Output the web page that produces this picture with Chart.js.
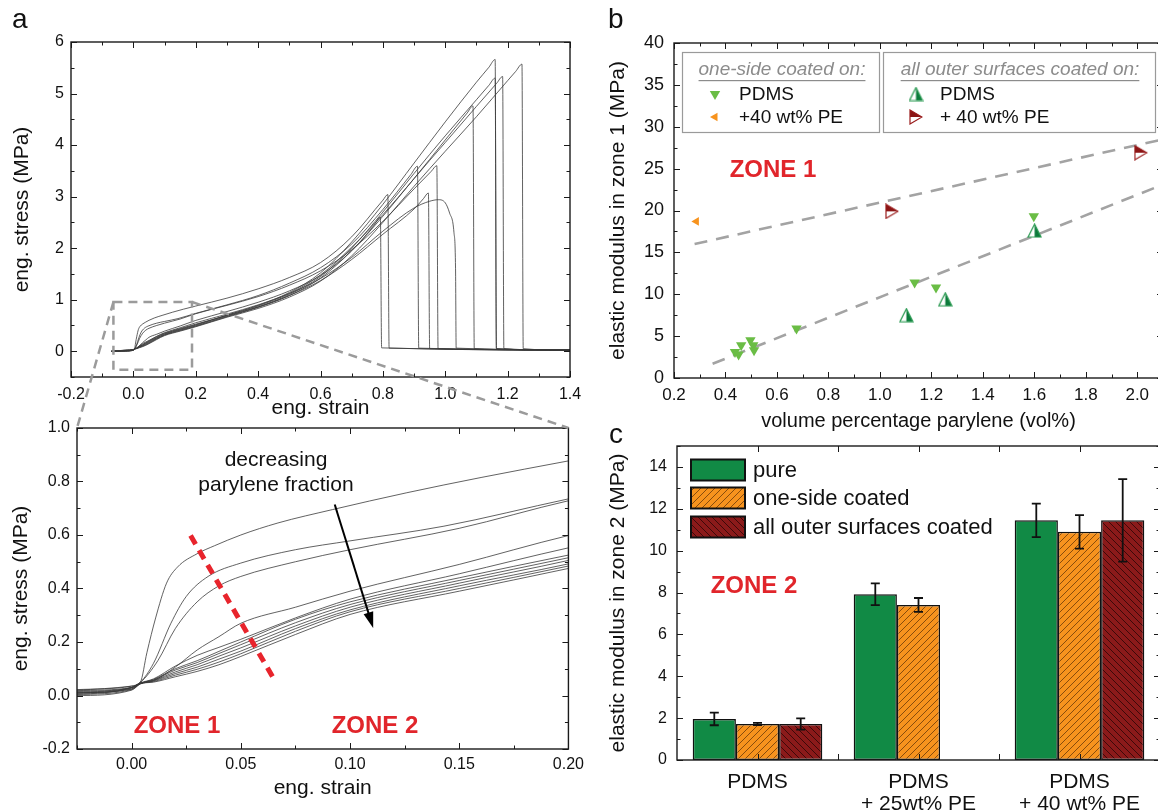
<!DOCTYPE html>
<html>
<head>
<meta charset="utf-8">
<title>Parylene coated PDMS - tensile data</title>
<script src="https://cdn.jsdelivr.net/npm/chart.js@4.4.1/dist/chart.umd.min.js"></script>
<style>
  html, body { margin: 0; padding: 0; background: #fff; }
  body { position: relative; width: 1158px; height: 812px; overflow: hidden; }
  canvas { position: absolute; }
</style>
</head>
<body>
<canvas id="stressFull" width="590" height="419" style="left:0;top:0"></canvas>
<canvas id="stressZoom" width="590" height="389" style="left:0;top:410px"></canvas>
<canvas id="modulusZone1" width="590" height="431" style="left:580px;top:0"></canvas>
<canvas id="modulusZone2" width="590" height="392" style="left:580px;top:420px"></canvas>
<canvas id="overlay" width="1158" height="812" style="left:0;top:0;pointer-events:none"></canvas>
<script>
const FONT = "'Liberation Sans', Arial, Helvetica, sans-serif";
Chart.defaults.font.family = FONT;
Chart.defaults.color = '#111';

// ---- panel a: stress-strain curves, [strain, stress (MPa)] ----
const curveA = [[-0.07,0],[-0.025,0.012],[0,0.03],[0.004,0.046],[0.01,0.056],[0.02,0.106],[0.03,0.17],[0.04,0.22],[0.05,0.27],[0.075,0.33],[0.1,0.39],[0.15,0.49],[0.2,0.598],[0.3,0.77],[0.4,0.95],[0.5,1.17],[0.6,1.47],[0.7,1.95],[0.77,2.43],[0.792,2.6],[0.796,0.065],[1.4,0.03]];
const curveB = [[-0.07,0],[-0.025,0.02],[0,0.035],[0.004,0.05],[0.007,0.16],[0.011,0.29],[0.016,0.42],[0.021,0.48],[0.03,0.53],[0.038,0.56],[0.05,0.6],[0.067,0.645],[0.092,0.695],[0.126,0.758],[0.16,0.815],[0.2,0.877],[0.3,1.03],[0.4,1.21],[0.5,1.43],[0.6,1.72],[0.7,2.22],[0.8,2.93],[0.816,3.04],[0.82,0.06],[1.4,0.03]];
const curveC = [[-0.07,0],[-0.025,0.022],[0,0.035],[0.004,0.05],[0.01,0.12],[0.018,0.27],[0.025,0.37],[0.035,0.445],[0.05,0.495],[0.075,0.545],[0.1,0.578],[0.143,0.633],[0.2,0.735],[0.3,0.9],[0.4,1.08],[0.5,1.32],[0.6,1.62],[0.7,2.08],[0.8,2.75],[0.89,3.43],[0.911,3.59],[0.915,0.06],[1.4,0.03]];
const curveD = [[-0.07,0],[-0.025,0.008],[0,0.03],[0.004,0.048],[0.012,0.13],[0.02,0.25],[0.03,0.35],[0.04,0.41],[0.05,0.445],[0.075,0.5],[0.1,0.545],[0.15,0.625],[0.2,0.728],[0.3,0.89],[0.4,1.06],[0.5,1.28],[0.6,1.56],[0.7,1.97],[0.8,2.52],[0.9,3.15],[0.955,3.49],[0.973,3.6],[0.977,0.05],[1.4,0.02]];
const curveE = [[-0.07,0],[-0.025,0.005],[0,0.03],[0.004,0.047],[0.01,0.062],[0.02,0.11],[0.03,0.15],[0.04,0.18],[0.05,0.21],[0.075,0.29],[0.1,0.36],[0.15,0.455],[0.2,0.552],[0.3,0.72],[0.4,0.9],[0.5,1.12],[0.6,1.41],[0.7,1.82],[0.8,2.33],[0.9,2.78],[0.95,2.91],[0.978,2.94],[1.0,2.88],[1.014,2.68],[1.028,2.3],[1.033,1.6],[1.035,0.06],[1.4,0.03]];
const curveF = [[-0.07,0],[-0.025,0.015],[0,0.028],[0.004,0.045],[0.01,0.06],[0.02,0.1],[0.03,0.13],[0.04,0.165],[0.05,0.2],[0.075,0.285],[0.1,0.35],[0.15,0.44],[0.2,0.525],[0.3,0.69],[0.4,0.86],[0.5,1.08],[0.6,1.37],[0.7,1.78],[0.8,2.27],[0.9,2.76],[0.93,2.96],[0.946,3.07],[0.95,0.05],[1.4,0.02]];
const curveG = [[-0.07,0],[-0.025,0.01],[0,0.025],[0.004,0.045],[0.01,0.058],[0.02,0.095],[0.03,0.123],[0.04,0.157],[0.05,0.19],[0.075,0.272],[0.1,0.34],[0.15,0.43],[0.2,0.515],[0.3,0.7],[0.4,0.88],[0.5,1.12],[0.6,1.48],[0.7,2.02],[0.8,2.65],[0.9,3.35],[1.0,4.1],[1.07,4.62],[1.089,4.76],[1.093,0.05],[1.4,0.02]];
const curveH = [[-0.07,0],[-0.025,0.004],[0,0.022],[0.004,0.044],[0.01,0.056],[0.02,0.088],[0.03,0.115],[0.04,0.147],[0.05,0.178],[0.075,0.26],[0.1,0.33],[0.15,0.42],[0.2,0.505],[0.3,0.7],[0.4,0.89],[0.5,1.14],[0.6,1.52],[0.7,2.12],[0.8,2.85],[0.9,3.65],[1.0,4.45],[1.1,5.22],[1.14,5.51],[1.16,5.66],[1.164,0.05],[1.4,0.02]];
const curveI = [[-0.07,0],[-0.025,0.0],[0,0.02],[0.004,0.043],[0.01,0.054],[0.02,0.082],[0.03,0.106],[0.04,0.136],[0.05,0.166],[0.075,0.25],[0.1,0.32],[0.15,0.41],[0.2,0.492],[0.3,0.68],[0.4,0.86],[0.5,1.1],[0.6,1.45],[0.7,2.0],[0.8,2.7],[0.9,3.45],[1.0,4.18],[1.1,4.88],[1.14,5.16],[1.16,5.3],[1.164,0.05],[1.4,0.02]];
const curveJ = [[-0.07,0],[-0.025,0.018],[0,0.03],[0.004,0.045],[0.01,0.052],[0.02,0.076],[0.03,0.098],[0.04,0.125],[0.05,0.156],[0.075,0.24],[0.1,0.313],[0.15,0.4],[0.2,0.484],[0.3,0.67],[0.4,0.85],[0.5,1.08],[0.6,1.42],[0.7,1.95],[0.8,2.62],[0.9,3.35],[1.0,4.05],[1.1,4.75],[1.165,5.2],[1.184,5.33],[1.188,0.05],[1.4,0.02]];
const curveK = [[-0.07,0],[-0.025,0.01],[0,0.024],[0.004,0.044],[0.01,0.05],[0.02,0.07],[0.03,0.09],[0.04,0.115],[0.05,0.146],[0.075,0.228],[0.1,0.303],[0.15,0.39],[0.2,0.475],[0.3,0.66],[0.4,0.83],[0.5,1.05],[0.6,1.36],[0.7,1.85],[0.8,2.5],[0.9,3.2],[1.0,3.88],[1.1,4.55],[1.2,5.25],[1.226,5.43],[1.246,5.57],[1.25,0.05],[1.4,0.02]];
const curveList = [curveA, curveB, curveC, curveD, curveE, curveF, curveG, curveH, curveI, curveJ, curveK];

// zoom window drawn on the full curve, and annotations of the zoomed plot
const zoomBoxStrain = [-0.064, 0.188];
const zoomBoxStress = [-0.36, 0.955];
const zoneBoundary = [[0.027, 0.598], [0.0647, 0.068]];
const fractionArrow = [[0.093, 0.714], [0.1106, 0.252]];

// ---- panel b: zone 1 modulus vs parylene volume ----
const oneSidePdmsVol = [0.437, 0.451, 0.461, 0.497, 0.508, 0.511, 0.676, 1.135, 1.218, 1.598];
const oneSidePdmsE   = [3.1, 2.8, 3.9, 4.5, 3.9, 3.3, 5.9, 11.4, 10.8, 19.3];
const oneSidePeVol = [0.287];
const oneSidePeE   = [18.7];
const allOuterPdmsVol = [1.103, 1.254, 1.601];
const allOuterPdmsE   = [7.5, 9.4, 17.6];
const allOuterPeVol = [1.047, 2.014];
const allOuterPeE   = [19.9, 26.9];
const fitUpperVol = [0.28, 2.1];
const fitUpperE   = [16.0, 28.5];
const fitLowerVol = [0.35, 2.1];
const fitLowerE   = [1.7, 23.1];

// ---- panel c: zone 2 modulus ----
const baseMaterials = ['PDMS', ['PDMS', '+ 25wt% PE'], ['PDMS', '+ 40 wt% PE']];
const pureE = [1.96, 7.92, 11.45];
const pureErr = [0.3, 0.52, 0.8];
const oneSideE = [1.72, 7.41, 10.9];
const oneSideErr = [0.05, 0.33, 0.8];
const allOuterE = [1.72, null, 11.45];
const allOuterErr = [0.27, null, 1.97];

// ---------- helpers ----------
const RED = '#e1252b';
const isStep = (v, step) => Math.abs(v / step - Math.round(v / step)) < 1e-6;
function stepValues(min, max, step) {
  const out = [];
  for (let k = Math.ceil(min / step - 1e-6); k * step <= max + 1e-9; k++) out.push(k * step);
  return out;
}
const stepTicks = step => scale => { scale.ticks = stepValues(scale.min, scale.max, step).map(value => ({ value })); };
const fixSize = size => scale => { if (scale.isHorizontal()) scale.height = size; else scale.width = size; };
const fmt = digits => v => (Math.abs(v) < 1e-9 ? 0 : v).toFixed(digits);
const pts = (xs, ys) => xs.map((x, i) => ({ x, y: ys[i] }));

function linAxis({ min, max, step, digits, size, pad, title, fit, titleSize = 21 }) {
  return {
    type: 'linear', min, max,
    grid: { display: false, drawTicks: false },
    border: { display: false },
    ticks: { stepSize: step, padding: pad, font: { size }, color: '#111', callback: fmt(digits), autoSkip: false, maxRotation: 0 },
    title: { display: !!title, text: title, font: { size: titleSize, lineHeight: 1 }, padding: 0, color: '#111' },
    afterBuildTicks: stepTicks(step),
    afterFit: fixSize(fit)
  };
}

function baseOptions(padding, frame) {
  return {
    responsive: false, animation: false, devicePixelRatio: 1,
    layout: { padding },
    plugins: { legend: { display: false }, tooltip: { enabled: false }, frame }
  };
}

// box round the plot with inward major/minor ticks on all four sides
const framePlugin = {
  id: 'frame',
  afterDatasetsDraw(chart, args, o) {
    const { ctx, chartArea: a } = chart;
    const { x, y } = chart.scales;
    ctx.save();
    ctx.strokeStyle = '#1a1a1a';
    ctx.lineWidth = 1;
    ctx.beginPath();
    const xMarks = o.xMarks || stepValues(x.min, x.max, o.xStep / 2).map(v => [v, isStep(v, o.xStep)]);
    for (const [v, major] of xMarks) {
      const p = Math.round(x.getPixelForValue(v)) + 0.5;
      const len = major ? 6 : 3.5;
      ctx.moveTo(p, a.bottom); ctx.lineTo(p, a.bottom - len);
      ctx.moveTo(p, a.top); ctx.lineTo(p, a.top + len);
    }
    for (const v of stepValues(y.min, y.max, o.yStep / 2)) {
      const p = Math.round(y.getPixelForValue(v)) + 0.5;
      const len = isStep(v, o.yStep) ? 6 : 3.5;
      ctx.moveTo(a.left, p); ctx.lineTo(a.left + len, p);
      ctx.moveTo(a.right, p); ctx.lineTo(a.right - len, p);
    }
    ctx.stroke();
    ctx.lineWidth = 1.4;
    ctx.strokeRect(a.left, a.top, a.right - a.left, a.bottom - a.top);
    ctx.restore();
  }
};

const curveDatasets = () => curveList.map(c => ({
  data: c.map(([x, y]) => ({ x, y })),
  showLine: true, pointRadius: 0, borderColor: '#3a3a3a', borderWidth: 0.8,
  cubicInterpolationMode: 'monotone'
}));

// ---------- panel a, full range ----------
const zoomBoxPlugin = {
  id: 'zoomBox',
  afterDatasetsDraw(chart) {
    const { ctx } = chart;
    const { x, y } = chart.scales;
    const x0 = x.getPixelForValue(zoomBoxStrain[0]), x1 = x.getPixelForValue(zoomBoxStrain[1]);
    const y0 = y.getPixelForValue(zoomBoxStress[1]), y1 = y.getPixelForValue(zoomBoxStress[0]);
    ctx.save();
    ctx.strokeStyle = '#9b9b9b'; ctx.lineWidth = 2.5; ctx.setLineDash([9, 6]);
    ctx.strokeRect(x0, y0, x1 - x0, y1 - y0);
    ctx.restore();
  }
};

const fullChart = new Chart(document.getElementById('stressFull'), {
  type: 'scatter',
  data: { datasets: curveDatasets() },
  options: {
    ...baseOptions({ left: 12, top: 42, right: 20, bottom: 0 }, { xStep: 0.2, yStep: 1 }),
    scales: {
      x: linAxis({ min: -0.2, max: 1.4, step: 0.2, digits: 1, size: 16, pad: 8, title: 'eng. strain', fit: 42 }),
      y: linAxis({ min: -0.5, max: 6, step: 1, digits: 0, size: 16, pad: 7, title: 'eng. stress (MPa)', fit: 59 })
    }
  },
  plugins: [framePlugin, zoomBoxPlugin]
});

// ---------- panel a, zoomed ----------
const zoomNotesPlugin = {
  id: 'zoomNotes',
  afterDatasetsDraw(chart) {
    const { ctx } = chart;
    const { x, y } = chart.scales;
    const px = p => [x.getPixelForValue(p[0]), y.getPixelForValue(p[1])];
    ctx.save();
    const [b0, b1] = zoneBoundary.map(px);
    ctx.strokeStyle = '#e8242c'; ctx.lineWidth = 5; ctx.setLineDash([10, 7]);
    ctx.beginPath(); ctx.moveTo(...b0); ctx.lineTo(...b1); ctx.stroke();
    ctx.setLineDash([]);
    const [a0, a1] = fractionArrow.map(px);
    const ang = Math.atan2(a1[1] - a0[1], a1[0] - a0[0]);
    const head = 16;
    ctx.strokeStyle = '#000'; ctx.fillStyle = '#000'; ctx.lineWidth = 2;
    ctx.beginPath(); ctx.moveTo(...a0);
    ctx.lineTo(a1[0] - Math.cos(ang) * head * 0.8, a1[1] - Math.sin(ang) * head * 0.8); ctx.stroke();
    ctx.beginPath(); ctx.moveTo(...a1);
    ctx.lineTo(a1[0] - head * Math.cos(ang) + 5 * Math.sin(ang), a1[1] - head * Math.sin(ang) - 5 * Math.cos(ang));
    ctx.lineTo(a1[0] - head * Math.cos(ang) - 5 * Math.sin(ang), a1[1] - head * Math.sin(ang) + 5 * Math.cos(ang));
    ctx.closePath(); ctx.fill();
    ctx.textAlign = 'center'; ctx.textBaseline = 'middle';
    ctx.font = `21px ${FONT}`; ctx.fillStyle = '#111';
    ctx.fillText('decreasing', 276, 50);
    ctx.fillText('parylene fraction', 276, 75);
    ctx.font = `bold 24px ${FONT}`; ctx.fillStyle = RED;
    ctx.fillText('ZONE 1', 177, 316);
    ctx.fillText('ZONE 2', 375, 316);
    ctx.restore();
  }
};

const zoomChart = new Chart(document.getElementById('stressZoom'), {
  type: 'scatter',
  data: { datasets: curveDatasets() },
  options: {
    ...baseOptions({ left: 11, top: 18, right: 20, bottom: 0 }, { xStep: 0.05, yStep: 0.2 }),
    scales: {
      x: linAxis({ min: -0.025, max: 0.2, step: 0.05, digits: 2, size: 16, pad: 6, title: 'eng. strain', fit: 50 }),
      y: linAxis({ min: -0.2, max: 1.0, step: 0.2, digits: 1, size: 16, pad: 7, title: 'eng. stress (MPa)', fit: 66 })
    }
  },
  plugins: [framePlugin, zoomNotesPlugin]
});

// ---------- panel b ----------
function halfUpTriangle(w, h, fill, line) {
  const c = document.createElement('canvas'); c.width = w; c.height = h;
  const g = c.getContext('2d');
  const tri = () => { g.beginPath(); g.moveTo(w / 2, 1); g.lineTo(w - 1, h - 1); g.lineTo(1, h - 1); g.closePath(); };
  tri(); g.fillStyle = '#fff'; g.fill();
  g.beginPath(); g.moveTo(w / 2, 1); g.lineTo(w - 1, h - 1); g.lineTo(w / 2, h - 1); g.closePath();
  g.fillStyle = fill; g.fill();
  tri(); g.strokeStyle = line; g.lineWidth = 1.2; g.stroke();
  return c;
}
function halfRightTriangle(w, h, fill, line) {
  const c = document.createElement('canvas'); c.width = w; c.height = h;
  const g = c.getContext('2d');
  const tri = () => { g.beginPath(); g.moveTo(1, 1); g.lineTo(w - 1, h / 2); g.lineTo(1, h - 1); g.closePath(); };
  tri(); g.fillStyle = '#fff'; g.fill();
  g.beginPath(); g.moveTo(1, 1); g.lineTo(w - 1, h / 2); g.lineTo(1, h / 2); g.closePath();
  g.fillStyle = fill; g.fill();
  tri(); g.strokeStyle = line; g.lineWidth = 1.2; g.stroke();
  return c;
}

const markOneSidePdms = { pointStyle: 'triangle', rotation: 180, radius: 6, color: '#6abd45' };
const markOneSidePe = { pointStyle: 'triangle', rotation: 270, radius: 5, color: '#f7931e' };
const markAllPdms = { pointStyle: halfUpTriangle(15, 15, '#0b7a3b', '#2a9a52'), rotation: 0, radius: 7, color: '#0b7a3b' };
const markAllPe = { pointStyle: halfRightTriangle(14, 16, '#8b1515', '#9a1c1c'), rotation: 0, radius: 7, color: '#8b1515' };

function drawMarker(ctx, m, x, y) {
  if (typeof m.pointStyle !== 'string') {
    ctx.drawImage(m.pointStyle, x - m.pointStyle.width / 2, y - m.pointStyle.height / 2);
    return;
  }
  const rad = m.rotation * Math.PI / 180;
  ctx.fillStyle = m.color;
  ctx.beginPath();
  for (let i = 0; i < 3; i++) {
    const t = rad + i * 2 * Math.PI / 3;
    ctx.lineTo(x + Math.sin(t) * m.radius, y - Math.cos(t) * m.radius);
  }
  ctx.closePath(); ctx.fill();
}

const markerSet = (xs, ys, m) => ({
  data: pts(xs, ys), showLine: false,
  pointStyle: m.pointStyle, pointRotation: m.rotation, pointRadius: m.radius,
  pointBackgroundColor: m.color, pointBorderWidth: 0
});
const fitSet = (xs, ys) => ({
  data: pts(xs, ys), showLine: true, pointRadius: 0,
  borderColor: '#a3a3a3', borderWidth: 2.6, borderDash: [13, 9]
});

const zone1LegendPlugin = {
  id: 'zone1Legend',
  afterDatasetsDraw(chart) {
    const { ctx } = chart;
    ctx.save();
    ctx.lineWidth = 1.2; ctx.strokeStyle = '#9a9a9a'; ctx.fillStyle = '#fff';
    for (const [x0, x1] of [[102, 299], [303, 575]]) {
      ctx.fillRect(x0, 52, x1 - x0, 80);
      ctx.strokeRect(x0 + 0.5, 52.5, x1 - x0, 80);
    }
    ctx.textBaseline = 'middle';
    ctx.font = `italic 19px ${FONT}`; ctx.fillStyle = '#8c8c8c'; ctx.textAlign = 'center';
    for (const [t, cx] of [['one-side coated on:', 202], ['all outer surfaces coated on:', 440]]) {
      ctx.fillText(t, cx, 70);
      const w = ctx.measureText(t).width;
      ctx.fillRect(cx - w / 2, 80, w, 1.2);
    }
    ctx.font = `19px ${FONT}`; ctx.textAlign = 'left';
    const rows = [
      [markOneSidePdms, 135, 94, 'PDMS'], [markOneSidePe, 135, 117, '+40 wt% PE'],
      [markAllPdms, 336, 94, 'PDMS'], [markAllPe, 336, 117, '+ 40 wt% PE']
    ];
    for (const [m, x, y, t] of rows) {
      drawMarker(ctx, m, x, y);
      ctx.fillStyle = '#111';
      ctx.fillText(t, x + 24, y + 1);
    }
    ctx.font = `bold 24px ${FONT}`; ctx.fillStyle = RED; ctx.textAlign = 'center';
    ctx.fillText('ZONE 1', 193, 170);
    ctx.restore();
  }
};

new Chart(document.getElementById('modulusZone1'), {
  type: 'scatter',
  data: {
    datasets: [
      markerSet(oneSidePdmsVol, oneSidePdmsE, markOneSidePdms),
      markerSet(oneSidePeVol, oneSidePeE, markOneSidePe),
      markerSet(allOuterPdmsVol, allOuterPdmsE, markAllPdms),
      markerSet(allOuterPeVol, allOuterPeE, markAllPe),
      fitSet(fitUpperVol, fitUpperE),
      fitSet(fitLowerVol, fitLowerE)
    ]
  },
  options: {
    ...baseOptions({ left: 28, top: 43, right: 5, bottom: 0 }, { xStep: 0.2, yStep: 5 }),
    scales: {
      x: linAxis({ min: 0.2, max: 2.1, step: 0.2, digits: 1, size: 17, pad: 7, title: 'volume percentage parylene (vol%)', fit: 53, titleSize: 20 }),
      y: linAxis({ min: 0, max: 40, step: 5, digits: 0, size: 18, pad: 10, title: 'elastic modulus in zone 1 (MPa)', fit: 66 })
    }
  },
  plugins: [framePlugin, zone1LegendPlugin]
});

// ---------- panel c ----------
function hatch(bg, line, rising) {
  const s = 7;
  const c = document.createElement('canvas'); c.width = s; c.height = s;
  const g = c.getContext('2d');
  g.fillStyle = bg; g.fillRect(0, 0, s, s);
  g.strokeStyle = line; g.lineWidth = 0.8;
  g.beginPath();
  for (const o of [-s, 0, s]) {
    if (rising) { g.moveTo(o, s); g.lineTo(o + s, 0); }
    else { g.moveTo(o, 0); g.lineTo(o + s, s); }
  }
  g.stroke();
  return g.createPattern(c, 'repeat');
}
const pureFill = '#118a45';
const oneSideFill = hatch('#f7931e', '#6b3a08', true);
const allOuterFill = hatch('#8b1a1a', '#2a0505', false);
const errorSets = [pureErr, oneSideErr, allOuterErr];

const zone2Plugin = {
  id: 'zone2Notes',
  afterDatasetsDraw(chart) {
    const { ctx } = chart;
    const y = chart.scales.y;
    ctx.save();
    ctx.strokeStyle = '#111'; ctx.lineWidth = 1.8;
    chart.data.datasets.forEach((ds, i) => {
      const meta = chart.getDatasetMeta(i);
      ds.data.forEach((v, j) => {
        const e = errorSets[i][j];
        if (v == null || e == null) return;
        const x = meta.data[j].x;
        const t = y.getPixelForValue(v + e), b = y.getPixelForValue(v - e);
        ctx.beginPath();
        ctx.moveTo(x, t); ctx.lineTo(x, b);
        ctx.moveTo(x - 4.5, t); ctx.lineTo(x + 4.5, t);
        ctx.moveTo(x - 4.5, b); ctx.lineTo(x + 4.5, b);
        ctx.stroke();
      });
    });
    const rows = [[50, 'pure'], [78, 'one-side coated'], [107, 'all outer surfaces coated']];
    ctx.textAlign = 'left'; ctx.textBaseline = 'middle'; ctx.font = `22px ${FONT}`;
    rows.forEach(([cy, label], i) => {
      ctx.fillStyle = chart.data.datasets[i].backgroundColor;
      ctx.fillRect(111, cy - 10.5, 54, 21);
      ctx.lineWidth = 2; ctx.strokeStyle = '#111';
      ctx.strokeRect(111, cy - 10.5, 54, 21);
      ctx.fillStyle = '#111';
      ctx.fillText(label, 173, cy + 1);
    });
    ctx.font = `bold 24px ${FONT}`; ctx.fillStyle = RED; ctx.textAlign = 'center';
    ctx.fillText('ZONE 2', 174, 166);
    ctx.restore();
  }
};

const barSet = (label, data, fill) => ({
  label, data, backgroundColor: fill, borderColor: '#111', borderWidth: 1.5, borderSkipped: false,
  barPercentage: 1, categoryPercentage: 0.805
});

new Chart(document.getElementById('modulusZone2'), {
  type: 'bar',
  data: {
    labels: baseMaterials,
    datasets: [
      barSet('pure', pureE, pureFill),
      barSet('one-side coated', oneSideE, oneSideFill),
      barSet('all outer surfaces coated', allOuterE, allOuterFill)
    ]
  },
  options: {
    ...baseOptions({ left: 28, top: 26, right: 10, bottom: 0 },
      { xMarks: [[0, true], [0.5, true], [1, true], [1.5, true], [2, true]], yStep: 2 }),
    scales: {
      x: {
        grid: { display: false, drawTicks: false }, border: { display: false },
        ticks: { padding: 11, font: { size: 21, lineHeight: 1.05 }, color: '#111', maxRotation: 0, autoSkip: false },
        afterFit: fixSize(52)
      },
      y: linAxis({ min: 0, max: 15, step: 2, digits: 0, size: 16, pad: 10, title: 'elastic modulus in zone 2 (MPa)', fit: 69 })
    }
  },
  plugins: [framePlugin, zone2Plugin]
});

// ---------- connectors between the two strain plots, panel letters ----------
const ov = document.getElementById('overlay').getContext('2d');
const fx = fullChart.scales.x, fy = fullChart.scales.y;
const za = zoomChart.chartArea;
const zoomTop = 410;
ov.strokeStyle = '#9b9b9b'; ov.lineWidth = 2.5; ov.setLineDash([9, 6]);
ov.beginPath();
ov.moveTo(fx.getPixelForValue(zoomBoxStrain[0]), fy.getPixelForValue(zoomBoxStress[1]));
ov.lineTo(za.left, za.top + zoomTop);
ov.moveTo(fx.getPixelForValue(zoomBoxStrain[1]), fy.getPixelForValue(zoomBoxStress[1]));
ov.lineTo(za.right, za.top + zoomTop);
ov.stroke();
ov.setLineDash([]);
ov.fillStyle = '#111'; ov.font = `28px ${FONT}`; ov.textBaseline = 'alphabetic';
ov.fillText('a', 12, 28);
ov.fillText('b', 608, 28);
ov.fillText('c', 609, 443);
</script>
</body>
</html>
